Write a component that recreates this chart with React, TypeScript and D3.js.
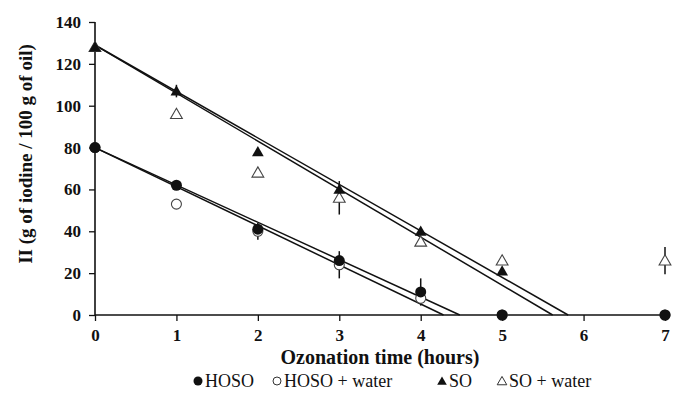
import React, { useEffect, useRef } from 'react';
import * as d3 from 'd3';

// ozonation time, hours
const hours = [0, 1, 2, 3, 4, 5, 7];

// iodine index per series (g of iodine / 100 g of oil)
const hoso = [80, 62, 41, 26, 11, 0, 0];
const hosoWater = [80, 53, 40, 24, 8, 0, 0];
const so = [128, 107, 78, 60, 40, 21, null];
const soWater = [128, 96, 68, 56, 35, 26, 26];

// error bar half widths
const hosoErr = [0, 0, 0, 0, 6.5, 0, 0];
const hosoWaterErr = [0, 0, 4, 6.5, 0, 0, 0];
const soErr = [0, 3, 0, 0, 0, 0, 0];
const soWaterErr = [0, 0, 0, 8, 0, 0, 6.5];

// linear fits: [intercept, x at zero]
const fits = [
  [80, 4.48],
  [80, 4.28],
  [129, 5.81],
  [129, 5.62],
];

const xTicks = [0, 1, 2, 3, 4, 5, 6, 7];
const yTicks = [0, 20, 40, 60, 80, 100, 120, 140];

const legendItems = ['HOSO', 'HOSO + water', 'SO', 'SO + water'];

const App = () => {
  const ref = useRef<SVGSVGElement>(null);

  useEffect(() => {
    const svg = d3.select(ref.current);
    svg.selectAll('*').remove();

    const width = 674;
    const height = 406;
    const margin = { left: 95, right: 9, top: 22, bottom: 91 };

    const x = d3.scaleLinear().domain([0, 7]).range([margin.left, width - margin.right]);
    const y = d3.scaleLinear().domain([0, 140]).range([height - margin.bottom, margin.top]);

    const font = '"Times New Roman", "Liberation Serif", Tinos, "DejaVu Serif", serif';

    // trend lines
    fits.forEach(([b, x0]) => {
      svg.append('line')
        .attr('x1', x(0)).attr('y1', y(b))
        .attr('x2', x(x0)).attr('y2', y(0))
        .attr('stroke', '#111').attr('stroke-width', 1.5);
    });

    // axes
    const yAxis = svg.append('g').attr('transform', `translate(${x(0)},0)`)
      .call(d3.axisLeft(y).tickValues(yTicks).tickSize(6).tickPadding(8));
    const xAxis = svg.append('g').attr('transform', `translate(0,${y(0)})`)
      .call(d3.axisBottom(x).tickValues(xTicks).tickFormat(d3.format('d')).tickSize(6).tickPadding(8));

    [xAxis, yAxis].forEach(a => {
      a.attr('font-family', font);
      a.select('.domain').attr('stroke', '#111').attr('stroke-width', 1.6);
      a.selectAll('line').attr('stroke', '#111').attr('stroke-width', 1.3);
      a.selectAll('text')
        .attr('font-family', font).attr('font-weight', 'bold')
        .attr('font-size', 17).attr('fill', '#111');
    });
    xAxis.select('.domain').attr('d', `M${x(0)},0H${x(7)}`);
    yAxis.select('.domain').attr('d', `M0,${y(0)}V${y(140)}`);

    // error bars
    const errs: [number[], (number | null)[]][] = [
      [hosoErr, hoso],
      [hosoWaterErr, hosoWater],
      [soErr, so],
      [soWaterErr, soWater],
    ];
    errs.forEach(([e, v]) => {
      hours.forEach((h, i) => {
        const val = v[i];
        if (val == null || !e[i]) return;
        svg.append('line')
          .attr('x1', x(h)).attr('x2', x(h))
          .attr('y1', y(val - e[i])).attr('y2', y(val + e[i]))
          .attr('stroke', '#111').attr('stroke-width', 1.5);
      });
    });

    const tri = d3.symbol().type(d3.symbolTriangle).size(60);

    // open markers first so filled sit on top where they overlap
    hours.forEach((h, i) => {
      svg.append('path').attr('d', tri()!)
        .attr('transform', `translate(${x(h)},${y(soWater[i]) + 1})`)
        .attr('fill', '#fff').attr('stroke', '#444').attr('stroke-width', 1.1);
    });
    hours.forEach((h, i) => {
      if (so[i] == null) return;
      svg.append('path').attr('d', tri()!)
        .attr('transform', `translate(${x(h)},${y(so[i] as number) + 1})`)
        .attr('fill', '#111');
    });
    hours.forEach((h, i) => {
      svg.append('circle')
        .attr('cx', x(h)).attr('cy', y(hosoWater[i])).attr('r', 5)
        .attr('fill', '#fff').attr('stroke', '#444').attr('stroke-width', 1.1);
    });
    hours.forEach((h, i) => {
      svg.append('circle')
        .attr('cx', x(h)).attr('cy', y(hoso[i])).attr('r', 5.5)
        .attr('fill', '#111');
    });

    // axis titles
    svg.append('text')
      .attr('x', (x(0) + x(7)) / 2).attr('y', 364)
      .attr('text-anchor', 'middle')
      .attr('font-family', font).attr('font-weight', 'bold').attr('font-size', 20)
      .attr('fill', '#111')
      .text('Ozonation time (hours)');

    svg.append('text')
      .attr('transform', 'translate(32,154) rotate(-90)')
      .attr('text-anchor', 'middle')
      .attr('font-family', font).attr('font-weight', 'bold').attr('font-size', 19)
      .attr('fill', '#111')
      .text('II (g of iodine / 100 g of oil)');

    // legend
    const legendX = [198, 277, 442, 502];
    const lg = svg.append('g');
    legendItems.forEach((name, i) => {
      const cx = legendX[i];
      const cy = 381;
      if (i === 0) lg.append('circle').attr('cx', cx).attr('cy', cy).attr('r', 4.5).attr('fill', '#111');
      if (i === 1) lg.append('circle').attr('cx', cx).attr('cy', cy).attr('r', 4).attr('fill', '#fff').attr('stroke', '#333').attr('stroke-width', 1);
      if (i === 2) lg.append('path').attr('d', d3.symbol().type(d3.symbolTriangle).size(40)()!).attr('transform', `translate(${cx},${cy + 1})`).attr('fill', '#111');
      if (i === 3) lg.append('path').attr('d', d3.symbol().type(d3.symbolTriangle).size(40)()!).attr('transform', `translate(${cx},${cy + 1})`).attr('fill', '#fff').attr('stroke', '#333').attr('stroke-width', 1);
      lg.append('text')
        .attr('x', cx + 7).attr('y', cy + 6)
        .attr('font-family', font).attr('font-size', 18).attr('fill', '#111')
        .text(name);
    });
  }, []);

  return (
    <div style={{ position: 'absolute', left: 0, top: 0 }}>
      <svg ref={ref} width={674} height={406} style={{ display: 'block', background: '#fff' }} />
    </div>
  );
};

export default App;
